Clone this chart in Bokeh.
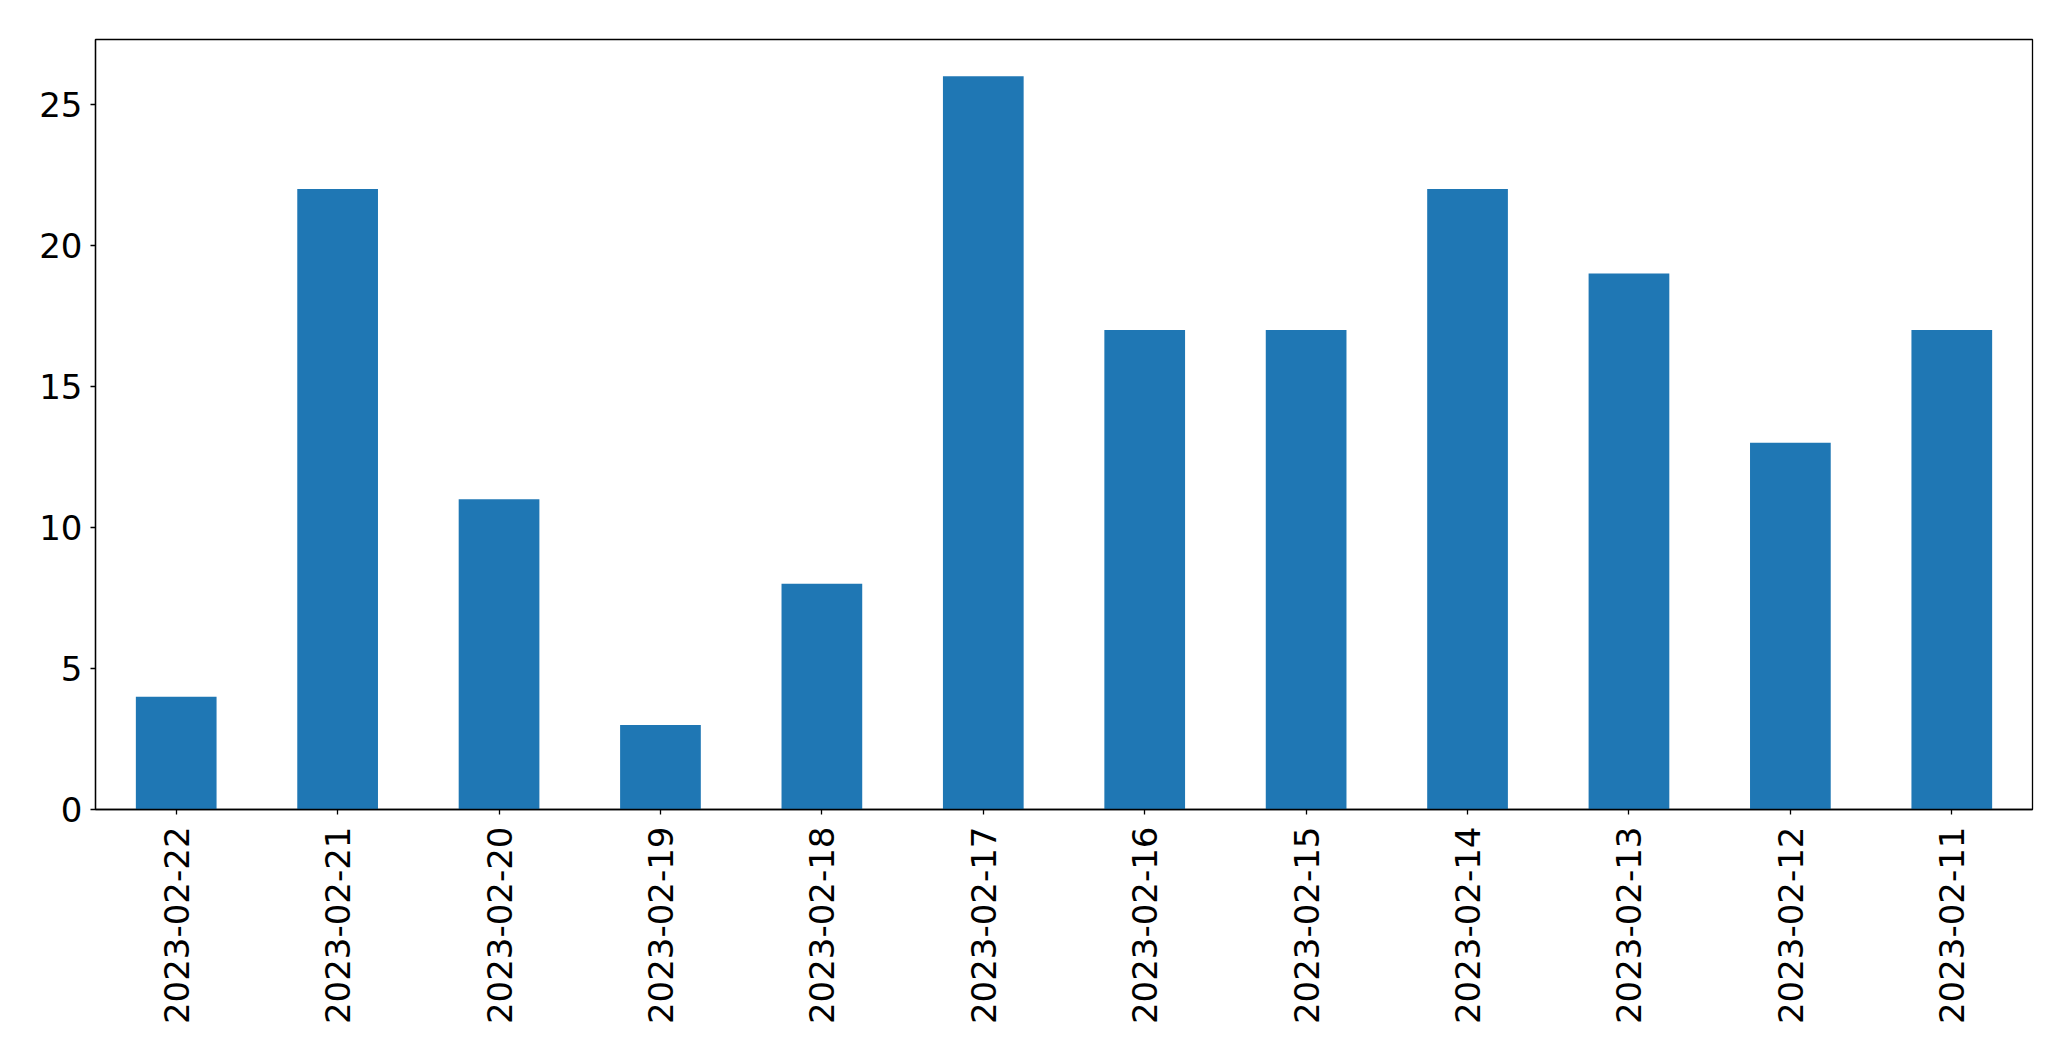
import math
from bokeh.plotting import figure
from bokeh.models import FactorRange, Range1d, ColumnDataSource, FixedTicker
from bokeh.embed import file_html
from bokeh.resources import INLINE

dates = ["2023-02-22", "2023-02-21", "2023-02-20", "2023-02-19", "2023-02-18", "2023-02-17",
         "2023-02-16", "2023-02-15", "2023-02-14", "2023-02-13", "2023-02-12", "2023-02-11"]
counts = [4, 22, 11, 3, 8, 26, 17, 17, 22, 19, 13, 17]
y_ticks = [0, 5, 10, 15, 20, 25]

src = ColumnDataSource(data=dict(date=dates, count=counts))

p = figure(x_range=FactorRange(factors=dates), y_range=Range1d(0, 27.3),
           frame_width=1937, frame_height=770,
           min_border_left=95, min_border_top=39, min_border_right=31, min_border_bottom=220,
           output_backend="svg", toolbar_location=None)

p.vbar(x="date", top="count", width=0.5, source=src, fill_color="#1f77b4", line_color=None)

p.xgrid.visible = False
p.ygrid.visible = False
p.outline_line_color = "black"
p.outline_line_width = 1.3
p.background_fill_color = "white"
p.border_fill_color = "white"

for ax in (p.xaxis[0], p.yaxis[0]):
    ax.axis_line_color = "black"
    ax.axis_line_width = 1.3
    ax.major_tick_line_color = "black"
    ax.major_tick_line_width = 1.3
    ax.major_tick_out = 5
    ax.major_tick_in = 0
    ax.minor_tick_line_color = None
    ax.major_label_text_font = "DejaVu Sans"
    ax.major_label_text_font_size = "34px"
    ax.major_label_text_color = "black"

p.yaxis[0].ticker = FixedTicker(ticks=y_ticks)
p.yaxis[0].major_label_standoff = 8
p.xaxis[0].major_label_orientation = math.pi / 2
p.xaxis[0].major_label_standoff = 12

open("out.html", "w").write(file_html(p, INLINE))
